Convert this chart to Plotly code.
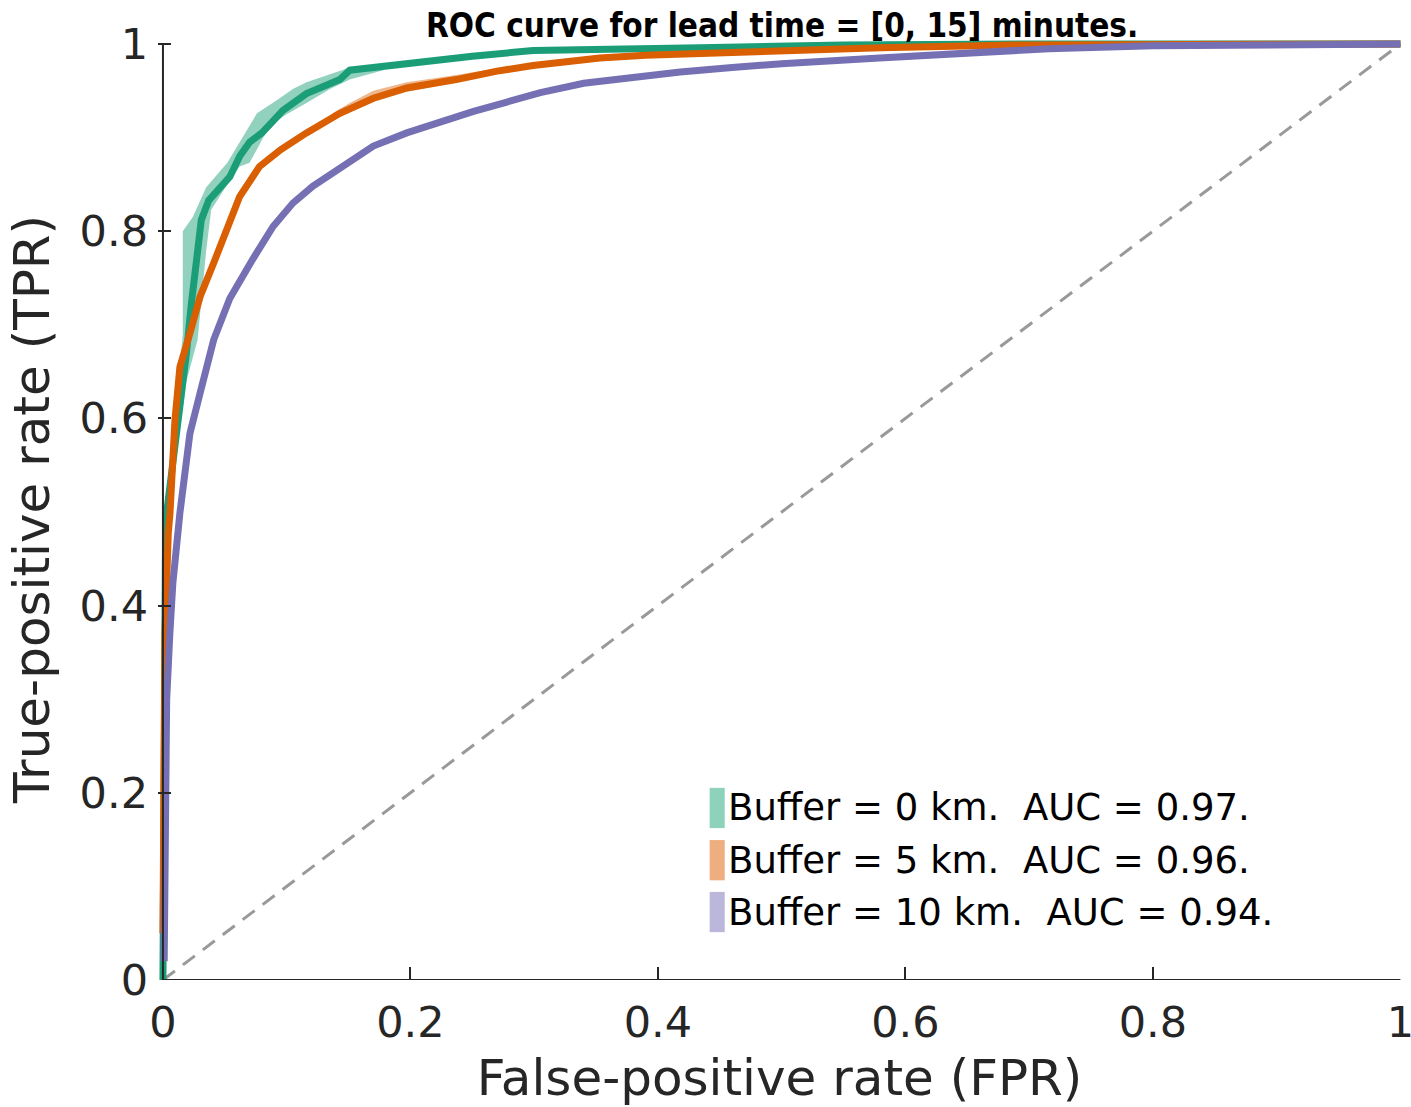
import plotly.graph_objects as go

# ---- data ----
fpr_0km = [0.0, 0.0005, 0.001, 0.002, 0.003, 0.0097, 0.016, 0.019, 0.023, 0.027, 0.031, 0.037, 0.054,
           0.062, 0.070, 0.080, 0.092, 0.097, 0.116, 0.143, 0.151, 0.178, 0.210, 0.25, 0.299, 0.36,
           0.434, 0.55, 0.70, 1.0]
tpr_0km = [0.0, 0.20, 0.38, 0.45, 0.499, 0.566, 0.637, 0.670, 0.723, 0.777, 0.812, 0.833, 0.858,
           0.880, 0.895, 0.905, 0.921, 0.929, 0.947, 0.962, 0.972, 0.976, 0.982, 0.987, 0.993, 0.995,
           0.996, 0.999, 1.0, 1.0]

fpr_5km = [0.0, 0.0005, 0.001, 0.0016, 0.0043, 0.0057, 0.0097, 0.0137, 0.0218, 0.030, 0.041, 0.054,
           0.062, 0.078, 0.095, 0.116, 0.143, 0.170, 0.197, 0.237, 0.270, 0.299, 0.325, 0.353, 0.390,
           0.434, 0.50, 0.58, 0.687, 0.80, 1.0]
tpr_5km = [0.05, 0.20, 0.30, 0.371, 0.477, 0.499, 0.598, 0.655, 0.691, 0.730, 0.766, 0.812,
           0.837, 0.869, 0.887, 0.905, 0.926, 0.942, 0.953, 0.962, 0.971, 0.977, 0.981, 0.985, 0.988,
           0.990, 0.993, 0.996, 0.999, 1.0, 1.0]

fpr_10km = [0.001, 0.0015, 0.002, 0.003, 0.0056, 0.008, 0.0137, 0.016, 0.0218, 0.030, 0.041, 0.054,
            0.064, 0.073, 0.089, 0.105, 0.121, 0.143, 0.170, 0.197, 0.224, 0.251, 0.278, 0.305, 0.340,
            0.380, 0.418, 0.46, 0.50, 0.579, 0.65, 0.716, 0.80, 0.90, 1.0]
tpr_10km = [0.02, 0.10, 0.20, 0.299, 0.371, 0.424, 0.499, 0.525, 0.584, 0.627, 0.684, 0.728,
            0.752, 0.771, 0.805, 0.830, 0.848, 0.867, 0.891, 0.905, 0.917, 0.928, 0.938, 0.948, 0.958,
            0.965, 0.970, 0.975, 0.979, 0.985, 0.991, 0.995, 0.998, 0.999, 1.0]

# confidence bands (upper and lower edges)
band_hi_x_0km = [0.003, 0.010, 0.016, 0.016, 0.024, 0.035, 0.052, 0.062, 0.070, 0.076, 0.092, 0.105,
                 0.116, 0.135, 0.151, 0.178]
band_hi_0km = [0.50, 0.60, 0.69, 0.80, 0.815, 0.847, 0.873, 0.895, 0.912, 0.926, 0.94, 0.952,
               0.959, 0.968, 0.975, 0.978]
band_lo_x_0km = [0.003, 0.010, 0.019, 0.028, 0.035, 0.039, 0.052, 0.062, 0.070, 0.086, 0.100,
                 0.116, 0.135, 0.151, 0.178]
band_lo_0km = [0.49, 0.55, 0.64, 0.684, 0.78, 0.823, 0.85, 0.869, 0.873, 0.912, 0.925,
               0.937, 0.952, 0.962, 0.972]

band_hi_x_5km = [0.137, 0.151, 0.170, 0.197, 0.237, 0.270, 0.299]
band_hi_5km = [0.926, 0.937, 0.950, 0.959, 0.967, 0.974, 0.979]
band_lo_x_5km = [0.137, 0.151, 0.170, 0.197, 0.237, 0.270, 0.299]
band_lo_5km = [0.918, 0.927, 0.938, 0.949, 0.959, 0.968, 0.975]

labels = ["Buffer = 0 km.  AUC = 0.97.", "Buffer = 5 km.  AUC = 0.96.", "Buffer = 10 km.  AUC = 0.94."]
line_colors = ["#1b9e77", "#d95f02", "#7570b3"]
band_colors = ["rgba(27,158,119,0.48)", "rgba(217,95,2,0.45)"]
patch_colors = ["#8fd2bb", "#efae80", "#bab7da"]

diag = [0.0, 1.0]
tick_vals = [0, 0.2, 0.4, 0.6, 0.8, 1]
tick_text = ["0", "0.2", "0.4", "0.6", "0.8", "1"]

TXT = "#262626"
FONT = "DejaVu Sans"

fig = go.Figure()

# diagonal reference
fig.add_trace(go.Scatter(x=diag, y=diag, mode="lines",
                         line=dict(color="#999999", width=3, dash="15px,10px"),
                         showlegend=False, hoverinfo="skip"))

bands = [(band_hi_x_0km, band_hi_0km, band_lo_x_0km, band_lo_0km),
         (band_hi_x_5km, band_hi_5km, band_lo_x_5km, band_lo_5km)]
curves = [(fpr_0km, tpr_0km), (fpr_5km, tpr_5km), (fpr_10km, tpr_10km)]

for (hx, hy, lx, ly), col in zip(bands, band_colors):
    fig.add_trace(go.Scatter(x=hx + lx[::-1], y=hy + ly[::-1], mode="lines", fill="toself",
                             fillcolor=col, line=dict(width=0), showlegend=False, hoverinfo="skip"))

for (cx, cy), col, lab in zip(curves, line_colors, labels):
    fig.add_trace(go.Scatter(x=cx, y=cy, mode="lines", name=lab,
                             line=dict(color=col, width=7), showlegend=False))

shapes = [
    dict(type="line", xref="x", yref="y", x0=0, x1=1, y0=0, y1=0, line=dict(color=TXT, width=2)),
    dict(type="line", xref="x", yref="y", x0=0, x1=0, y0=0, y1=1, line=dict(color=TXT, width=2)),
]
annotations = []
leg_y = [0.1838, 0.128, 0.0726]
for lab, pc, yc in zip(labels, patch_colors, leg_y):
    shapes.append(dict(type="rect", xref="x", yref="y", x0=0.4418, x1=0.454,
                       y0=yc - 0.0215, y1=yc + 0.0215, fillcolor=pc, line=dict(width=0)))
    annotations.append(dict(x=0.4553, y=yc, xref="x", yref="y", text=lab, showarrow=False,
                            xanchor="left", yanchor="middle",
                            font=dict(family=FONT, size=37, color="#000000")))

annotations.append(dict(x=0.5, y=1, xref="x", yref="paper", yshift=13, showarrow=False,
                        text="<b>ROC curve for lead time = [0, 15] minutes.</b>",
                        xanchor="center", yanchor="middle",
                        font=dict(family="DejaVu Sans Condensed, DejaVu Sans", size=33, color="#000000")))

fig.update_layout(
    width=1411, height=1107,
    margin=dict(l=158, r=10, t=38, b=127, autoexpand=False),
    paper_bgcolor="white", plot_bgcolor="white",
    showlegend=False,
    shapes=shapes, annotations=annotations,
    font=dict(family=FONT, color=TXT),
)
fig.update_xaxes(range=[-0.004, 1.0005], tickvals=tick_vals, ticktext=tick_text,
                 showgrid=False, zeroline=False, showline=False, automargin=False,
                 ticks="inside", ticklen=13, tickwidth=2, tickcolor=TXT,
                 tickfont=dict(family=FONT, size=43, color=TXT), ticklabelstandoff=13,
                 ticklabeloverflow="allow",
                 title=dict(text="False-positive rate (FPR)", font=dict(family=FONT, size=50, color=TXT),
                            standoff=16))
fig.update_yaxes(range=[0, 1.0064], tickvals=tick_vals, ticktext=tick_text,
                 showgrid=False, zeroline=False, showline=False, automargin=False,
                 ticks="inside", ticklen=13, tickwidth=2, tickcolor=TXT,
                 tickfont=dict(family=FONT, size=43, color=TXT), ticklabelstandoff=9,
                 ticklabeloverflow="allow",
                 title=dict(text="True-positive rate (TPR)", font=dict(family=FONT, size=50, color=TXT),
                            standoff=14))

fig.write_html("out.html")
